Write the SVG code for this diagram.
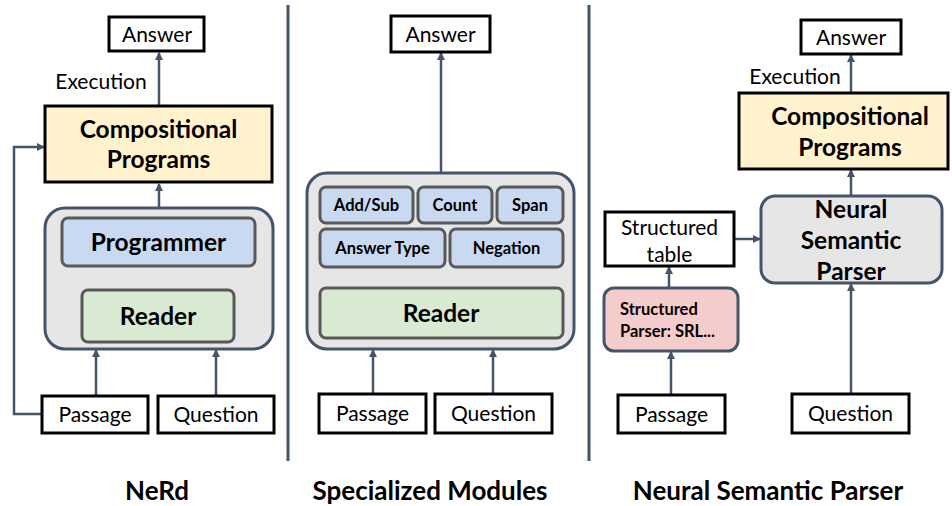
<svg xmlns="http://www.w3.org/2000/svg" width="952" height="506" viewBox="0 0 952 506">
<style>
text{font-family:Lato,"Liberation Sans",sans-serif;fill:#000;text-anchor:middle}
.box{fill:#fff;stroke:#000;stroke-width:3}
.comp{fill:#FFF2CC;stroke:#000;stroke-width:3}
.cont{fill:#E7E6E6;stroke:#44546A;stroke-width:3}
.blue{fill:#C9D9F2;stroke:#595959;stroke-width:3}
.green{fill:#D9EAD3;stroke:#595959;stroke-width:3}
.pink{fill:#F4CCCC;stroke:#44546A;stroke-width:3}
.t{font-size:21px}
.big{font-size:24.5px;font-weight:bold}
.sm{font-size:16.5px;font-weight:bold}
.sp{font-size:16.5px;font-weight:bold;text-anchor:start}
.title{font-size:26px;font-weight:bold}
.conn line,.conn polyline{stroke:#44546A;stroke-width:2.5;fill:none}
.div{stroke:#44546A;stroke-width:3}
</style>
<defs>
<marker id="ah" markerWidth="8" markerHeight="8" refX="7" refY="4" orient="auto" markerUnits="userSpaceOnUse">
<path d="M0,0 L8,4 L0,8 Z" fill="#44546A"/>
</marker>
</defs>

<line class="div" x1="288" y1="5" x2="288" y2="461"/>
<line class="div" x1="589" y1="5" x2="589" y2="461"/>

<g class="conn">
<line x1="159" y1="106" x2="159" y2="53" marker-end="url(#ah)"/>
<line x1="159" y1="208" x2="159" y2="184" marker-end="url(#ah)"/>
<line x1="159" y1="290" x2="159" y2="268" marker-end="url(#ah)"/>
<line x1="96" y1="396" x2="96" y2="350" marker-end="url(#ah)"/>
<line x1="216" y1="396" x2="216" y2="350" marker-end="url(#ah)"/>
<polyline points="42,414 14,414 14,147 44,147" marker-end="url(#ah)"/>

<line x1="441" y1="173" x2="441" y2="53" marker-end="url(#ah)"/>
<line x1="441" y1="288" x2="441" y2="268" marker-end="url(#ah)"/>
<line x1="373" y1="394" x2="373" y2="350" marker-end="url(#ah)"/>
<line x1="493" y1="394" x2="493" y2="350" marker-end="url(#ah)"/>

<line x1="851" y1="93" x2="851" y2="55" marker-end="url(#ah)"/>
<line x1="851" y1="196" x2="851" y2="170" marker-end="url(#ah)"/>
<line x1="735" y1="239" x2="760" y2="239" marker-end="url(#ah)"/>
<line x1="669" y1="288" x2="669" y2="267" marker-end="url(#ah)"/>
<line x1="671" y1="395" x2="671" y2="352" marker-end="url(#ah)"/>
<line x1="851" y1="394" x2="851" y2="284" marker-end="url(#ah)"/>
</g>

<!-- Panel 1: NeRd -->
<g id="nerd-answer"><rect class="box" x="109" y="17" width="95" height="34"/><text class="t" x="157" y="42">Answer</text></g>
<g id="nerd-exec"><text class="t" x="101" y="89">Execution</text></g>
<g id="nerd-comp"><rect class="comp" x="45" y="106" width="227" height="76"/><text class="big" x="158.5" y="138">Compositional</text><text class="big" x="158.5" y="168">Programs</text></g>
<g id="nerd-container"><rect class="cont" x="45" y="208" width="228" height="141" rx="20"/></g>
<g id="nerd-programmer"><rect class="blue" x="62" y="218" width="193" height="48" rx="6"/><text class="big" x="158.5" y="251">Programmer</text></g>
<g id="nerd-reader"><rect class="green" x="82" y="290" width="152" height="52" rx="6"/><text class="big" x="158" y="325">Reader</text></g>
<g id="nerd-passage"><rect class="box" x="42" y="396" width="106" height="37"/><text class="t" x="95" y="422">Passage</text></g>
<g id="nerd-question"><rect class="box" x="158" y="396" width="116" height="37"/><text class="t" x="216" y="422">Question</text></g>
<g id="nerd-title"><text class="title" x="157" y="500">NeRd</text></g>

<!-- Panel 2: Specialized Modules -->
<g id="sm-answer"><rect class="box" x="391" y="16" width="99" height="36"/><text class="t" x="440.5" y="42">Answer</text></g>
<g id="sm-container"><rect class="cont" x="307" y="173" width="267" height="176" rx="20"/></g>
<g id="sm-addsub"><rect class="blue" x="320" y="187" width="93" height="36" rx="6"/><text class="sm" x="366.5" y="211">Add/Sub</text></g>
<g id="sm-count"><rect class="blue" x="418" y="187" width="74" height="36" rx="6"/><text class="sm" x="455" y="211">Count</text></g>
<g id="sm-span"><rect class="blue" x="497" y="187" width="66" height="36" rx="6"/><text class="sm" x="530" y="211">Span</text></g>
<g id="sm-answertype"><rect class="blue" x="320" y="229" width="125" height="38" rx="6"/><text class="sm" x="382.5" y="254">Answer Type</text></g>
<g id="sm-negation"><rect class="blue" x="450" y="229" width="113" height="38" rx="6"/><text class="sm" x="506.5" y="254">Negation</text></g>
<g id="sm-reader"><rect class="green" x="320" y="288" width="243" height="50" rx="6"/><text class="big" x="441" y="322">Reader</text></g>
<g id="sm-passage"><rect class="box" x="319" y="394" width="107" height="39"/><text class="t" x="372.5" y="421">Passage</text></g>
<g id="sm-question"><rect class="box" x="435" y="394" width="117" height="39"/><text class="t" x="493.5" y="421">Question</text></g>
<g id="sm-title"><text class="title" x="430" y="500">Specialized Modules</text></g>

<!-- Panel 3: Neural Semantic Parser -->
<g id="nsp-answer"><rect class="box" x="801" y="20" width="100" height="34"/><text class="t" x="851" y="45">Answer</text></g>
<g id="nsp-exec"><text class="t" x="795" y="84">Execution</text></g>
<g id="nsp-comp"><rect class="comp" x="739" y="93" width="209" height="76"/><text class="big" x="850" y="125">Compositional</text><text class="big" x="850" y="156">Programs</text></g>
<g id="nsp-parser"><rect class="cont" x="761" y="196" width="181" height="87" rx="14"/><text class="big" x="851" y="218">Neural</text><text class="big" x="851" y="249">Semantic</text><text class="big" x="851" y="280">Parser</text></g>
<g id="nsp-table"><rect class="box" x="605" y="212" width="129" height="54"/><text class="t" x="669.5" y="235">Structured</text><text class="t" x="669.5" y="262">table</text></g>
<g id="nsp-struct"><rect class="pink" x="604" y="288" width="134" height="63" rx="10"/><text class="sp" x="620" y="315">Structured</text><text class="sp" x="620" y="337">Parser: SRL...</text></g>
<g id="nsp-passage"><rect class="box" x="618" y="395" width="107" height="38"/><text class="t" x="671.5" y="422">Passage</text></g>
<g id="nsp-question"><rect class="box" x="792" y="394" width="117" height="39"/><text class="t" x="850.5" y="421">Question</text></g>
<g id="nsp-title"><text class="title" x="768" y="500">Neural Semantic Parser</text></g>
</svg>
